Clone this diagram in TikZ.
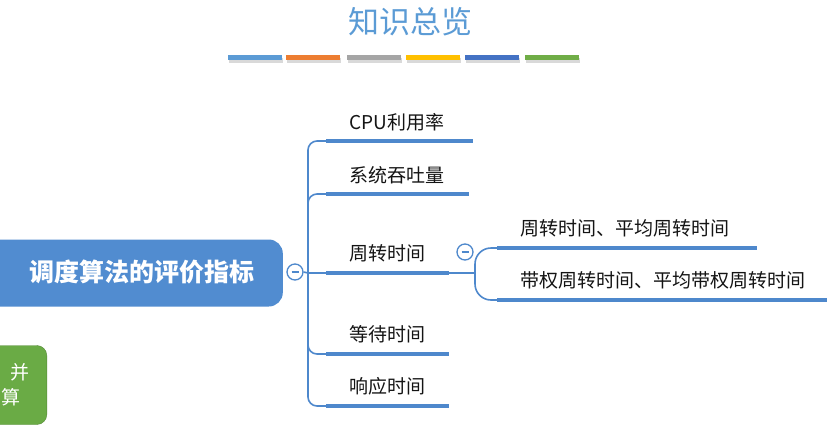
\documentclass[tikz,border=0pt]{standalone}
\usepackage{fontspec}
\newfontfamily\cjk{Noto Sans CJK SC}
\definecolor{lnblue}{HTML}{4E88CC}
\definecolor{rootblue}{HTML}{518CD0}
\definecolor{ttlblue}{HTML}{5B9BD5}
\definecolor{barA}{HTML}{5B9BD5}
\definecolor{barB}{HTML}{ED7D31}
\definecolor{barC}{HTML}{A5A5A5}
\definecolor{barD}{HTML}{FFC000}
\definecolor{barE}{HTML}{4472C4}
\definecolor{barF}{HTML}{70AD47}
\definecolor{leafgreen}{HTML}{6AAB45}
\tikzset{
  link/.style={lnblue, line width=1.6pt, rounded corners=9pt},
  uline/.style={lnblue, line width=4.5pt},
  lbl/.style={anchor=west, inner sep=0pt, font=\cjk\fontsize{19}{21}\selectfont, text=black!92},
  btn/.style={circle, draw=lnblue, fill=white, line width=1.3pt, minimum size=16pt, inner sep=0pt},
  bar/.style={line width=5pt},
}
\newcommand{\minusmark}[1]{\draw[lnblue, line width=1.3pt] ([xshift=-3.5pt]#1.center) -- ([xshift=3.5pt]#1.center);}
\begin{document}
\begin{tikzpicture}[x=1pt,y=-1pt]
\useasboundingbox (0,0) rectangle (835,426);
%
% titulo y barras de colores
\node[font=\cjk\fontsize{31}{33}\selectfont, text=ttlblue] (title) at (410,22) {知识总览};
\foreach \xa/\xb/\c in {228/282/barA, 286/340/barB, 347/401/barC, 406/460/barD, 465/519/barE, 525/579/barF}{
  \draw[bar, black, opacity=0.15] (\xa+1,60) -- (\xb+1,60);
  \draw[bar, \c] (\xa,57) -- (\xb,57);
}
%
% nodo raiz
\node[draw=none, fill=rootblue, rounded corners=14pt, minimum width=300pt, minimum height=67pt,
      anchor=east] (root) at (283,273) {};
\node[font=\cjk\bfseries\fontsize{25}{27}\selectfont, text=white] (roottxt) at (142,272) {调度算法的评价指标};
\node[btn] (b1) at (295,272) {};
\minusmark{b1}
%
% nodo verde (cortado)
\node[fill=leafgreen, draw=leafgreen!80!black, rounded corners=10pt, minimum width=80pt,
      minimum height=79pt, anchor=east] (side) at (47,385) {};
\node[font=\cjk\fontsize{19}{21}\selectfont, text=white] (s1) at (20,372) {并};
\node[font=\cjk\fontsize{19}{21}\selectfont, text=white] (s2) at (11,397) {算};
%
% tronco y ramas
\coordinate (hub) at (308,273);
\coordinate (cpuL) at (326,141);  \coordinate (cpuR) at (473,141);
\coordinate (sysL) at (326,194);  \coordinate (sysR) at (469,194);
\coordinate (zzL) at (326,273);   \coordinate (zzR) at (449,273);
\coordinate (ddL) at (326,354);   \coordinate (ddR) at (449,354);
\coordinate (xyL) at (326,406);   \coordinate (xyR) at (449,406);
%
\draw[link] (b1.east) -- (hub);
\draw[link] (hub) |- (cpuL);
\draw[link] (hub) |- (sysL);
\draw[link] (hub) -- (zzL);
\draw[link] (hub) |- (ddL);
\draw[link] (hub) |- (xyL);
%
\draw[uline] (cpuL) -- (cpuR);
\draw[uline] (sysL) -- (sysR);
\draw[uline] (zzL) -- (zzR);
\draw[uline] (ddL) -- (ddR);
\draw[uline] (xyL) -- (xyR);
%
\node[lbl] (cpu) at (349,122) {CPU利用率};
\node[lbl] (sys) at (349,175) {系统吞吐量};
\node[lbl] (zz) at (349,253) {周转时间};
\node[lbl] (dd) at (349,334) {等待时间};
\node[lbl] (xy) at (349,386) {响应时间};
%
%周转时间 -> hijos
\node[btn] (b2) at (465,252) {};
\minusmark{b2}
\coordinate (fork) at (475,273);
\coordinate (t1L) at (497,248);  \coordinate (t1R) at (757,248);
\coordinate (t2L) at (497,300);  \coordinate (t2R) at (827,300);
\draw[link] (zzR) -- (fork);
\draw[link, rounded corners=16pt] (fork) |- (t1L);
\draw[link, rounded corners=16pt] (fork) |- (t2L);
\draw[uline] (t1L) -- (t1R);
\draw[uline] (t2L) -- (t2R);
\node[lbl] (t1) at (520,228) {周转时间、平均周转时间};
\node[lbl] (t2) at (520,280) {带权周转时间、平均带权周转时间};
%
\end{tikzpicture}
\end{document}
